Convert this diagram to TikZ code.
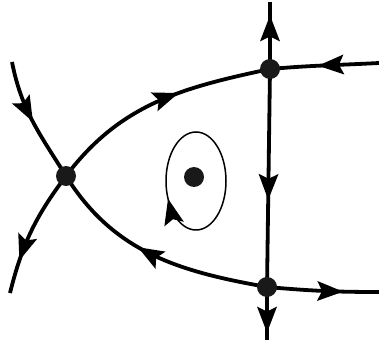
\documentclass[tikz,border=0pt]{standalone}
\usetikzlibrary{decorations.markings}
\begin{document}
\begin{tikzpicture}[x=1pt,y=-1pt,
  flow/.style={line width=3.8pt},
  orbit/.style={line width=1.5pt},
  tipmark/.style={postaction={decorate},decoration={markings,mark=at position #1 with {\fill[black] (0pt,0pt) -- (-26pt,10pt) -- (-21pt,0pt) -- (-26pt,-10pt) -- cycle;}}},
  dot/.style={circle,fill=black!90,inner sep=0pt,minimum size=20pt}]
\useasboundingbox (0,0) rectangle (379,347);
\coordinate (A) at (12,62);
\coordinate (S) at (66,176);
\coordinate (L) at (10,293);
\coordinate (T) at (270,69);
\coordinate (F) at (379,63);
\coordinate (B) at (267,287);
\coordinate (E) at (379,292);
\coordinate (U) at (270,2);
\coordinate (D) at (267,340);
\coordinate (C) at (196,181);
\coordinate (P) at (194,177);
% separatrices
\draw[flow,tipmark=0.5] (A) to[out=-79,in=122] (S);
\draw[flow,tipmark=0.57] (B) to[out=170,in=-58] (S);
\draw[flow,tipmark=0.68] (B) to[out=-5,in=180] (E);
\draw[flow,tipmark=0.74] (S) to[out=233,in=76] (L);
\draw[flow,tipmark=0.6] (S) to[out=53,in=192] (T);
\draw[flow,tipmark=0.56] (F) to[out=183,in=5] (T);
\draw[flow,tipmark=0.8] (T) -- (U);
\draw[flow,tipmark=0.6] (T) -- (B);
\draw[flow,tipmark=0.86] (B) -- (D);
% closed orbit
\draw[orbit,tipmark=45pt] (C) ++(0,49) arc[start angle=270,end angle=-90,x radius=30pt,y radius=49pt];
% equilibria
\node[dot] (dS) at (S) {};
\node[dot] (dT) at (T) {};
\node[dot] (dB) at (B) {};
\node[dot] (dP) at (P) {};
\end{tikzpicture}
\end{document}
